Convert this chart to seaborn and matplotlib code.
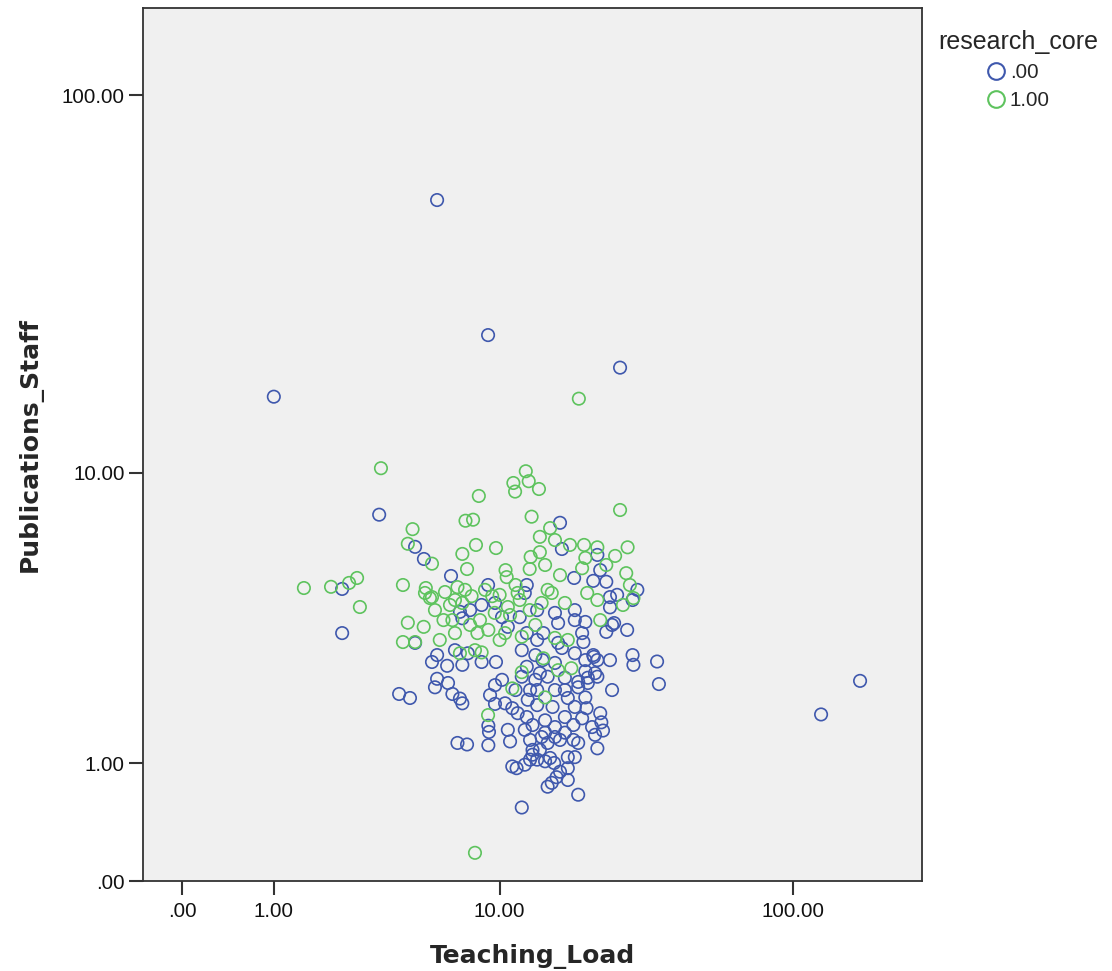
import numpy as np
import pandas as pd
import matplotlib
matplotlib.use("Agg")
import matplotlib.pyplot as plt
from matplotlib.lines import Line2D
import seaborn as sns

# ---- data ----
teaching_load_0 = [5.86, 9.08, 26.3, 1.00, 3.43, 2.35, 2.35, 123.5, 166.1, 4.15, 4.59, 35.1, 35.6, 12.0, 18.9,
                   4.81, 5.21, 6.62, 9.08, 12.5,
                   16.35, 16.6, 22.0, 22.5, 23.6, 21.3, 18.3, 30.1,
                   29.0, 24.7, 27.8, 25.1,
                   24.3, 29.0, 29.2, 24.7, 22.5, 22.7, 21.4, 21.6, 20.4,
                   18.4, 24.3, 24.3, 25.7, 13.6, 15.7, 18.4, 20.0, 23.6, 16.1, 14.3, 19.5, 19.7, 16.1, 13.6,
                   16.6, 18.4, 21.3, 22.0, 20.0, 14.2, 15.7, 20.0, 20.4, 22.0, 18.9, 14.8, 17.0, 13.9, 17.0,
                   18.9, 20.0, 15.7, 17.4, 13.6, 15.4, 18.4, 20.2, 19.5, 17.0, 14.5, 21.1, 15.7, 18.2,
                   4.81, 5.6, 5.86, 6.4, 7.3, 8.6, 9.7, 5.86, 5.75, 6.45, 6.7, 7.15, 7.3, 9.23, 9.62, 9.62,
                   10.2, 10.46, 11.4, 11.6, 12.5, 12.6, 11.1, 9.1, 12.0, 12.5, 6.85, 7.65, 7.8, 7.3, 11.8,
                   12.5, 10.7, 12.3, 9.62, 10.2, 8.6, 7.15,
                   7.0, 7.6, 9.1, 9.15, 10.9, 12.84, 13.1, 11.1, 11.5, 12.3, 12.84, 13.1,
                   14.1, 14.8, 15.7, 17.0, 18.2, 18.9, 21.6, 22.0, 23.0, 13.9, 13.6, 14.5, 15.1, 15.6, 17.4,
                   18.4, 16.35, 17.4, 15.9, 15.3, 14.8, 17.4, 16.35, 14.5,
                   13.1, 13.6, 12.3, 13.4, 12.0, 13.4, 12.84, 10.7]
publications_0 = [53.6, 23.7, 19.4, 16.2, 7.6, 4.56, 3.29, 1.66, 2.24, 2.0, 1.93, 2.63, 2.18, 0.54, 0.66,
                  6.12, 5.63, 5.0, 4.69, 4.69,
                  7.2, 6.03, 5.79, 5.21, 4.8, 4.83, 4.93, 4.53,
                  4.21, 3.5, 3.37, 3.55,
                  2.66, 2.77, 2.56, 2.07, 1.68, 1.54, 2.73, 2.39, 2.2,
                  3.91, 3.99, 4.3, 4.37, 3.91, 3.83, 3.63, 3.58, 3.32, 3.55, 3.29, 3.29, 3.07, 3.05, 3.12,
                  2.93, 2.81, 2.77, 2.66, 2.66, 2.66, 2.6, 2.43, 2.3, 2.32, 2.22, 2.32, 2.3, 2.39, 2.07,
                  2.12, 1.94, 2.07, 1.93, 2.07, 1.78, 1.78, 1.76, 1.6, 1.62, 1.57, 1.47, 1.47, 1.5,
                  3.05, 2.62, 2.77, 2.54, 2.56, 2.62, 2.62, 2.28, 2.12, 2.2, 2.0, 1.92, 1.84, 1.98, 2.16, 1.83,
                  2.26, 1.84, 2.07, 1.68, 1.62, 1.9, 1.76, 1.49, 2.32, 2.52, 2.88, 2.81, 3.91, 3.68, 3.71,
                  3.29, 3.45, 4.43, 4.12, 3.71, 4.06, 3.86,
                  1.25, 1.23, 1.22, 1.40, 1.27, 1.29, 1.16, 0.96, 0.94, 0.98, 1.04, 1.10,
                  1.33, 1.25, 1.33, 1.39, 1.29, 1.25, 1.36, 1.18, 1.42, 1.16, 1.04, 1.02, 1.06, 1.0, 1.07,
                  1.07, 0.9, 0.94, 0.84, 0.78, 0.74, 0.81, 1.29, 1.39,
                  1.5, 1.81, 1.43, 2.26, 2.88, 2.77, 2.07, 1.43]

teaching_load_1 = [19.0, 3.49, 8.13, 1.51, 2.08, 2.53, 2.75, 2.83, 9.08,
                   12.4, 12.7, 11.2, 11.36, 8.4, 13.0, 7.5, 8.0, 4.7, 4.5, 5.6, 7.3, 8.2, 9.7, 7.6, 10.5,
                   10.6, 12.9, 12.8, 4.3, 5.3, 7.0, 11.4,
                   13.8, 26.3, 15.1, 13.9, 17.7, 19.8, 27.9, 25.3, 20.0, 13.9, 19.5, 27.6, 28.4, 15.7, 14.5,
                   16.35, 14.8,
                   15.3, 14.1, 17.0, 20.3, 22.0, 26.9, 29.2, 22.5, 15.7, 17.4, 14.3, 16.1, 17.9, 14.5,
                   4.5, 4.3, 4.81, 5.2, 5.5, 6.2, 7.3, 7.9, 6.85, 8.3, 7.15, 8.6, 8.13, 12.0, 11.1, 9.6,
                   10.7, 12.0, 11.6, 10.46, 5.26, 5.6, 5.75, 6.56, 8.48, 9.4,
                   6.28, 6.85, 7.47, 8.85, 10.0, 10.9, 7.8, 6.0, 10.0, 12.8, 11.8, 13.4, 6.7, 9.1, 22.0, 23.6]
publications_1 = [16.0, 10.3, 0.18, 4.59, 4.63, 4.76, 4.93, 4.0, 1.65,
                  10.1, 9.47, 9.36, 8.85, 8.6, 7.5, 7.3, 7.35, 6.9, 6.25, 5.45, 5.83, 6.2, 6.07, 5.25, 5.21,
                  4.96, 5.71, 5.25, 4.69, 4.59, 4.62, 4.69,
                  9.0, 7.84, 6.95, 6.55, 6.2, 6.2, 6.1, 5.75, 5.67, 5.9, 5.28, 5.1, 4.69, 6.41, 5.4,
                  5.03, 4.53,
                  4.43, 4.12, 4.12, 4.43, 4.21, 4.06, 4.27, 3.63, 3.17, 3.12, 2.7, 2.45, 2.49, 1.94,
                  3.56, 3.07, 3.07, 3.45, 4.27, 3.63, 4.12, 4.33, 3.29, 3.29, 2.81, 2.83, 2.88, 2.41, 2.1, 3.83,
                  4.0, 3.2, 4.43, 3.29, 4.43, 4.3, 3.91, 4.06, 3.63, 4.33,
                  4.46, 4.21, 4.53, 4.53, 4.37, 3.77, 3.5, 3.12, 3.12, 3.91, 4.21, 3.5, 3.63, 3.37, 6.1, 5.4]

group_labels = [".00", "1.00"]
tick_values = [0, 1, 10, 100]
tick_labels = [".00", "1.00", "10.00", "100.00"]

df = pd.DataFrame({
    "Teaching_Load": teaching_load_0 + teaching_load_1,
    "Publications_Staff": publications_0 + publications_1,
    "research_core": [group_labels[0]] * len(teaching_load_0) + [group_labels[1]] * len(teaching_load_1),
})

palette = {".00": "#3F58AD", "1.00": "#5EC35E"}

sns.set_style("white")
plt.rcParams["font.family"] = ["Liberation Sans", "DejaVu Sans"]

fig = plt.figure(figsize=(11.12, 9.71), dpi=100)
ax = fig.add_axes([143 / 1112, 1 - 881 / 971, (922 - 143) / 1112, (881 - 8) / 971])
ax.set_facecolor("#F0F0F0")


def fwd(v):
    return np.log10(np.clip(np.asarray(v, dtype=float) + 1.0, 1e-9, None))


def inv(v):
    return 10.0 ** np.asarray(v, dtype=float) - 1.0


sns.scatterplot(data=df, x="Teaching_Load", y="Publications_Staff", hue="research_core",
                hue_order=group_labels, palette=palette, s=80, linewidth=1.2,
                legend=False, ax=ax)
for coll in ax.collections:
    fc = coll.get_facecolors()
    coll.set_edgecolors(fc)
    coll.set_facecolors("none")

ax.set_xscale("function", functions=(fwd, inv))
ax.set_yscale("function", functions=(fwd, inv))
ax.set_xlim(-0.255, 265.7)
ax.set_ylim(0, 167.7)
ax.set_xticks(tick_values)
ax.set_xticklabels(tick_labels)
ax.set_yticks(tick_values)
ax.set_yticklabels(tick_labels)
ax.minorticks_off()
ax.tick_params(axis="both", which="major", direction="out", length=10, width=1.5,
               color="#333333", labelsize=14.8, labelcolor="#111111", pad=3,
               bottom=True, left=True, top=False, right=False)
ax.tick_params(axis="x", pad=5)

for side in ["left", "bottom", "top", "right"]:
    ax.spines[side].set_visible(True)
    ax.spines[side].set_color("#333333")
    ax.spines[side].set_linewidth(1.3)

ax.set_xlabel("Teaching_Load", fontsize=18, fontweight="bold", labelpad=17,
              family=["DejaVu Sans"])
ax.set_ylabel("Publications_Staff", fontsize=18, fontweight="bold", labelpad=14,
              family=["DejaVu Sans"])

handles = [Line2D([], [], marker="o", linestyle="", markerfacecolor="none",
                  markeredgecolor=palette[g], markersize=12, markeredgewidth=1.5)
           for g in group_labels]
leg = fig.legend(handles, group_labels, title="research_core", loc="upper center",
                 bbox_to_anchor=(1018 / 1112, 1 - 30 / 971), frameon=False,
                 fontsize=14.8, title_fontsize=18, handletextpad=0.15,
                 labelspacing=0.45, borderaxespad=0, borderpad=0, handlelength=1.0)

fig.savefig("out.png", dpi=100)
